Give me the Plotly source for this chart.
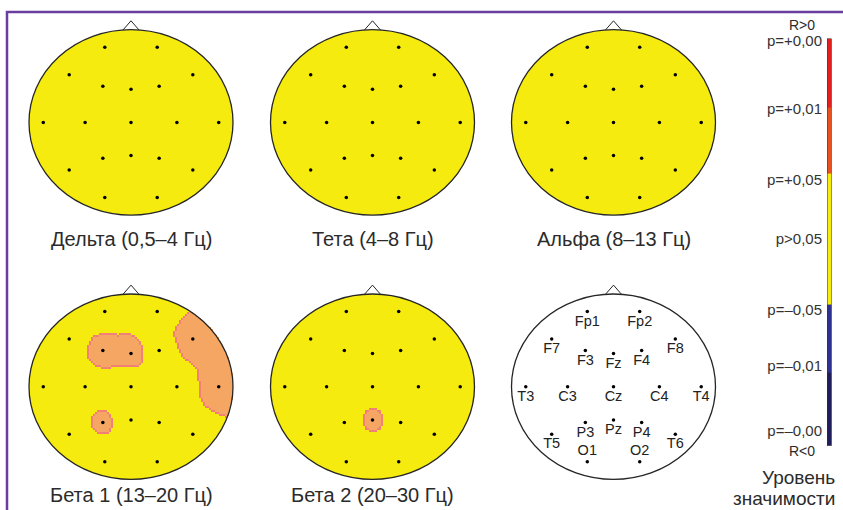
import numpy as np
import plotly.graph_objects as go

W, H = 843, 510
FONT = "Liberation Sans, Arial, sans-serif"

# 10-20 montage, unit head (x to the right ear, y towards the nose)
ELECTRODES = ["Fp1", "Fp2", "F7", "F3", "Fz", "F4", "F8",
              "T3", "C3", "Cz", "C4", "T4",
              "T5", "P3", "Pz", "P4", "T6", "O1", "O2"]
ELEC_X = [-0.257, 0.257, -0.606, -0.276, 0.0, 0.276, 0.606,
          -0.86, -0.45, 0.0, 0.45, 0.86,
          -0.606, -0.276, 0.0, 0.276, 0.606, -0.257, 0.257]
ELEC_Y = [0.81, 0.81, 0.514, 0.39, 0.358, 0.39, 0.514,
          0.0, 0.0, 0.0, 0.0, 0.0,
          -0.514, -0.386, -0.358, -0.386, -0.514, -0.81, -0.81]

# correlation p-values per electrode (all correlations R > 0)
#            Fp1  Fp2  F7   F3     Fz     F4   F8     T3   C3   Cz   C4   T4     T5   P3    Pz     P4   T6   O1   O2
P_DELTA = [0.50, 0.50, 0.50, 0.50, 0.50, 0.50, 0.50, 0.50, 0.50, 0.50, 0.50, 0.50, 0.50, 0.50, 0.50, 0.50, 0.50, 0.50, 0.50]
P_THETA = [0.50, 0.50, 0.50, 0.50, 0.50, 0.50, 0.50, 0.50, 0.50, 0.50, 0.50, 0.50, 0.50, 0.50, 0.50, 0.50, 0.50, 0.50, 0.50]
P_ALPHA = [0.50, 0.50, 0.50, 0.50, 0.50, 0.50, 0.50, 0.50, 0.50, 0.50, 0.50, 0.50, 0.50, 0.50, 0.50, 0.50, 0.50, 0.50, 0.50]
P_BETA1 = [0.50, 0.50, 0.50, 0.012, 0.015, 0.50, 0.004, 0.50, 0.50, 0.50, 0.50, 0.004, 0.50, 0.028, 0.50, 0.50, 0.50, 0.50, 0.50]
P_BETA2 = [0.50, 0.50, 0.50, 0.50, 0.50, 0.50, 0.50, 0.50, 0.50, 0.50, 0.50, 0.50, 0.50, 0.50, 0.025, 0.50, 0.50, 0.50, 0.50]

BAND_TITLES = ["Дельта (0,5–4 Гц)", "Тета (4–8 Гц)", "Альфа (8–13 Гц)",
               "Бета 1 (13–20 Гц)", "Бета 2 (20–30 Гц)"]
BAND_P = [P_DELTA, P_THETA, P_ALPHA, P_BETA1, P_BETA2]

# significance scale (colour bar)
SCALE_EDGES = [-3.0, -1.925, -0.923, 1.01, 1.983, 3.0]
SCALE_COLORS = ["#1f1d5c", "#2e3192", "#f6eb0f", "#e8501f", "#e3201f"]
SCALE_TICKS = [2.97, 1.96, 0.92, 0.045, -1.0, -1.82, -2.78]
SCALE_LABELS = ["p=+0,00", "p=+0,01", "p=+0,05", "p>0,05", "p=–0,05", "p=–0,01", "p=–0,00"]

# head geometry (pixels)
RX, RY = 102.0, 94.0
HEAD_CX = [131, 372.5, 613.5, 131, 372.5, 613.5]
HEAD_CY = [117, 117, 117, 385, 385, 385]
TITLE_Y = [235, 235, 235, 495, 495]
XR, YR = 1.1, 1.12
CELL = 2.0

YELLOW = "#f6eb0f"
RIM = "#f08078"
PATCH = "#f4a662"
OUTLINE = "#262626"

fig = go.Figure()
shapes, annotations = [], []
layout_axes = {}

ex = np.array(ELEC_X)
ey = np.array(ELEC_Y)

nx = int(round(2 * RX / CELL))
ny = int(round(2 * RY / CELL))
gx = -1 + (np.arange(nx) + 0.5) * (2.0 / nx)
gy = -1 + (np.arange(ny) + 0.5) * (2.0 / ny)
GX, GY = np.meshgrid(gx, gy)
inside = GX ** 2 + GY ** 2 <= 1.0
thr = -np.log10(0.05)

for i in range(6):
    sfx = "" if i == 0 else str(i + 1)
    xa, ya = "x" + sfx, "y" + sfx
    cx, cy = HEAD_CX[i], HEAD_CY[i]
    x0 = (cx - XR * RX) / W
    x1 = (cx + XR * RX) / W
    y0 = (H - cy - YR * RY) / H
    y1 = (H - cy + YR * RY) / H
    layout_axes["xaxis" + sfx] = dict(domain=[x0, x1], range=[-XR, XR], visible=False,
                                      anchor=ya, fixedrange=True)
    layout_axes["yaxis" + sfx] = dict(domain=[y0, y1], range=[-YR, YR], visible=False,
                                      anchor=xa, fixedrange=True)

    is_map = i < 5
    shapes.append(dict(type="circle", xref=xa, yref=ya, x0=-1, x1=1, y0=-1, y1=1,
                       fillcolor=YELLOW if is_map else "white", line=dict(width=0),
                       layer="below"))

    if is_map:
        # inverse-distance interpolation of significance between electrodes
        v = -np.log10(np.array(BAND_P[i]))
        d = np.sqrt(((GX[..., None] - ex) * RX) ** 2 + ((GY[..., None] - ey) * RY) ** 2)
        w = 1.0 / (d ** 3 + 1e-6)
        f = (w * v).sum(-1) / w.sum(-1)
        sig = inside & (f >= thr)
        if sig.any():
            ok = np.pad(sig | ~inside, 1, constant_values=True)
            core = sig & ok[:-2, 1:-1] & ok[2:, 1:-1] & ok[1:-1, :-2] & ok[1:-1, 2:]
            z = np.where(core, 2.0, np.where(sig, 1.0, np.nan))
            fig.add_trace(go.Heatmap(x=gx, y=gy, z=z, xaxis=xa, yaxis=ya, zmin=1, zmax=2,
                                     colorscale=[[0, RIM], [0.5, RIM], [0.5, PATCH], [1, PATCH]],
                                     showscale=False, zsmooth=False, hoverinfo="skip"))
        fig.add_trace(go.Scatter(x=ELEC_X, y=ELEC_Y, xaxis=xa, yaxis=ya, mode="markers",
                                 marker=dict(size=3.5, color="black"), hoverinfo="skip",
                                 showlegend=False))
        annotations.append(dict(text=BAND_TITLES[i], xref="paper", yref="paper",
                                x=cx / W, y=(H - TITLE_Y[i]) / H, showarrow=False,
                                xanchor="center", yanchor="middle",
                                font=dict(size=20, color="#2b2b2b", family=FONT)))
    else:
        pos = ["top center" if n in ("O1", "O2") else "bottom center" for n in ELECTRODES]
        fig.add_trace(go.Scatter(x=ELEC_X, y=ELEC_Y, xaxis=xa, yaxis=ya, mode="markers+text",
                                 text=ELECTRODES, textposition=pos,
                                 textfont=dict(size=14.5, color="#222222", family=FONT),
                                 marker=dict(size=3.5, color="black"), hoverinfo="skip",
                                 showlegend=False))

    shapes.append(dict(type="circle", xref=xa, yref=ya, x0=-1, x1=1, y0=-1, y1=1,
                       line=dict(color=OUTLINE, width=1.3), layer="above"))
    shapes.append(dict(type="path", xref=xa, yref=ya,
                       path="M -0.08,0.995 L 0,1.096 L 0.08,0.995",
                       line=dict(color=OUTLINE, width=1), layer="above"))

# colour bar of significance levels
n_seg = len(SCALE_COLORS)
cs = []
for k, c in enumerate(SCALE_COLORS):
    cs += [[k / n_seg, c], [(k + 1) / n_seg, c]]
fig.add_trace(go.Heatmap(x=[0, 1], y=SCALE_EDGES, z=[[k] for k in range(n_seg)],
                         xaxis="x7", yaxis="y7", zmin=-0.5, zmax=n_seg - 0.5,
                         colorscale=cs, showscale=False, hoverinfo="skip"))
layout_axes["xaxis7"] = dict(domain=[827 / W, 831.5 / W], range=[0, 1], visible=False,
                             anchor="y7", fixedrange=True)
layout_axes["yaxis7"] = dict(domain=[(H - 445) / H, (H - 32) / H], range=[-3, 3],
                             anchor="x7", side="left", tickvals=SCALE_TICKS,
                             ticktext=SCALE_LABELS, ticks="", showgrid=False,
                             zeroline=False, showline=False, ticklabelstandoff=4,
                             tickfont=dict(size=15, color="#333333", family=FONT),
                             fixedrange=True)
shapes.append(dict(type="rect", xref="x7", yref="y7", x0=0, x1=1, y0=-3, y1=3,
                   line=dict(color="#333333", width=1), layer="above"))

for txt, x, y, xanc, size in [("R>0", 802, 18, "center", 14), ("R<0", 802, 450, "center", 14),
                              ("Уровень", 837, 477, "right", 19),
                              ("значимости", 837, 498, "right", 19)]:
    annotations.append(dict(text=txt, xref="paper", yref="paper", x=x / W, y=(H - y) / H,
                            showarrow=False, xanchor=xanc, yanchor="middle",
                            font=dict(size=size, color="#2b2b2b", family=FONT)))

# frame along the top and left edges
shapes.append(dict(type="path", xref="paper", yref="paper",
                   path=f"M {7 / W},-0.2 L {7 / W},{(H - 5) / H} L 1.2,{(H - 5) / H}",
                   line=dict(color="#6a3d9e", width=2.5), layer="above"))

fig.update_layout(width=W, height=H, margin=dict(l=0, r=0, t=0, b=0),
                  paper_bgcolor="white", plot_bgcolor="rgba(0,0,0,0)",
                  showlegend=False, shapes=shapes, annotations=annotations,
                  font=dict(family=FONT), **layout_axes)

fig.write_html("out.html")
